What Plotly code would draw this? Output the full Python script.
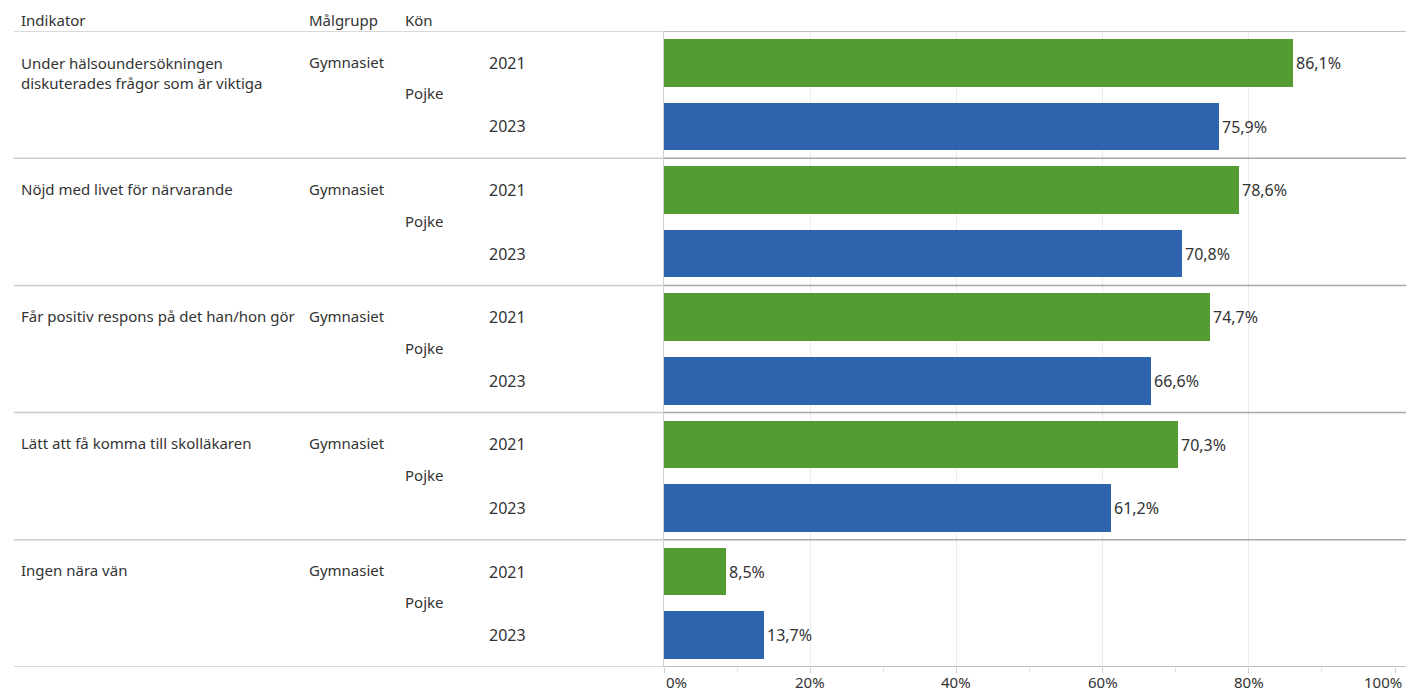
import plotly.graph_objects as go

indicators = [
    "Under hälsoundersökningen<br>diskuterades frågor som är viktiga",
    "Nöjd med livet för närvarande",
    "Får positiv respons på det han/hon gör",
    "Lätt att få komma till skolläkaren",
    "Ingen nära vän",
]
malgrupp = ["Gymnasiet"] * 5
kon = ["Pojke"] * 5
years = ["2021", "2023"]
v2021 = [86.1, 78.6, 74.7, 70.3, 8.5]
v2023 = [75.9, 70.8, 66.6, 61.2, 13.7]
tickvals = [0, 20, 40, 60, 80, 100]
ticktext = ["0%", "20%", "40%", "60%", "80%", "100%"]

GREEN = "#539C31"
BLUE = "#2E63AE"
TXT = "#333333"
FONT = "Noto Sans"
FS = 15
FSN = 16

OFF = 8  # page body margin
W, H = 1414 - OFF, 693 - OFF
PL, PR, PT, PB = 664, 1395, 31, 667  # plot area in page pixels
ML, MR, MT, MB = PL - OFF, 1414 - PR, PT - OFF, 693 - PB
pw = PR - PL
ph = PB - PT

def px2paper(x):
    return (x - PL) / pw

def py2paper(y):
    return (PB - y) / ph

def fmt(v):
    return f"{v:.1f}".replace(".", ",") + "%"

n = len(indicators)
y21 = [2 * g for g in range(n)]
y23 = [2 * g + 1 for g in range(n)]

fig = go.Figure()
for xs, ys, col in [(v2021, y21, GREEN), (v2023, y23, BLUE)]:
    fig.add_trace(go.Bar(orientation="h", x=xs, y=ys, width=0.75,
                         marker=dict(color=col, line=dict(width=0)),
                         text=[fmt(v) for v in xs], textposition="outside",
                         textfont=dict(size=FSN, color=TXT, family=FONT),
                         cliponaxis=False, hoverinfo="skip"))

ann = []
for label, xp in [("Indikator", 19), ("Målgrupp", 307), ("Kön", 403)]:
    ann.append(dict(text=label, xref="paper", yref="paper", x=px2paper(xp),
                    y=py2paper(20), xanchor="left", yanchor="middle",
                    showarrow=False, font=dict(size=FS, color=TXT, family=FONT)))
for g in range(n):
    nl = indicators[g].count("<br>")
    ann.append(dict(text=indicators[g], xref="paper", yref="y", x=px2paper(19),
                    y=2 * g - 0.02 + 0.175 * nl, xanchor="left", yanchor="middle", align="left",
                    showarrow=False, font=dict(size=FS, color=TXT, family=FONT)))
    ann.append(dict(text=malgrupp[g], xref="paper", yref="y", x=px2paper(307),
                    y=2 * g - 0.02, xanchor="left", yanchor="middle",
                    showarrow=False, font=dict(size=FS, color=TXT, family=FONT)))
    ann.append(dict(text=kon[g], xref="paper", yref="y", x=px2paper(403),
                    y=2 * g + 0.48, xanchor="left", yanchor="middle",
                    showarrow=False, font=dict(size=FS, color=TXT, family=FONT)))
    for j, yr in enumerate(years):
        ann.append(dict(text=yr, xref="paper", yref="y", x=px2paper(487),
                        y=2 * g + j, xanchor="left", yanchor="middle",
                        showarrow=False, font=dict(size=FSN, color=TXT, family=FONT)))
# x tick labels
for tv, tt in zip(tickvals, ticktext):
    if tv == tickvals[0]:
        anchor, shift = "left", 0
    elif tv == tickvals[-1]:
        anchor, shift = "right", 9
    else:
        anchor, shift = "center", 0
    ann.append(dict(text=tt, xref="x", yref="paper", x=tv, y=py2paper(682),
                    xanchor=anchor, yanchor="middle", xshift=shift,
                    showarrow=False, font=dict(size=FS, color=TXT, family=FONT)))

shapes = []
for g in range(n + 1):
    yy = 2 * g - 0.5
    shapes.append(dict(type="line", xref="paper", yref="y", x0=px2paper(14), x1=0,
                       y0=yy, y1=yy, line=dict(color="#cccccc", width=1.5)))
    shapes.append(dict(type="line", xref="paper", yref="y", x0=0, x1=px2paper(1414),
                       y0=yy, y1=yy, line=dict(color="#a8a8a8", width=1.5)))

fig.update_layout(
    width=W, height=H,
    margin=dict(l=ML, r=MR, t=MT, b=MB, autoexpand=False),
    plot_bgcolor="white", paper_bgcolor="white",
    showlegend=False, bargap=0,
    font=dict(family=FONT, size=FS, color=TXT),
    annotations=ann, shapes=shapes,
    xaxis=dict(range=[0, 100], tickvals=tickvals, showticklabels=False,
               showgrid=True, gridcolor="#ececec", gridwidth=1,
               zeroline=False, showline=False, automargin=False,
               ticks="outside", ticklen=5, tickcolor="#d0d0d0",
               minor=dict(dtick=10, ticks="outside", ticklen=4, tickcolor="#e0e0e0", showgrid=False),
               fixedrange=True),
    yaxis=dict(range=[2 * n - 0.5, -0.5], showticklabels=False, showgrid=False,
               zeroline=False, showline=True, linecolor="#d0d0d0", linewidth=1,
               automargin=False, fixedrange=True),
)

fig.write_html("out.html")
